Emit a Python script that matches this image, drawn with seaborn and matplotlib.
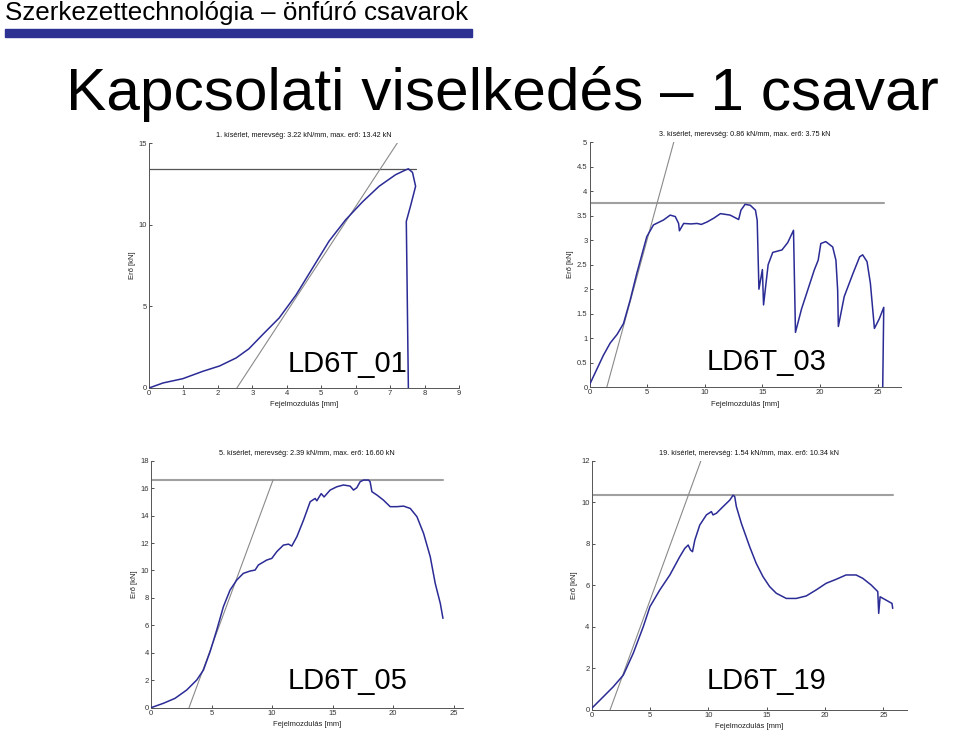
import matplotlib
matplotlib.use("Agg")
import matplotlib.pyplot as plt
import seaborn as sns
import pandas as pd

# ---------------- data ----------------
x1 = [0, 0.41, 0.98, 1.56, 2.05, 2.53, 2.9, 3.3, 3.78, 4.27, 4.75, 5.23, 5.71, 6.2, 6.68,
      7.16, 7.45, 7.53, 7.65, 7.74, 7.6, 7.47, 7.49, 7.53]
y1 = [0, 0.31, 0.57, 1.02, 1.35, 1.84, 2.4, 3.27, 4.29, 5.7, 7.35, 9.0, 10.3, 11.4, 12.35,
      13.06, 13.35, 13.42, 13.2, 12.35, 11.2, 10.2, 6.9, 0]

x2 = [0, 0.6, 1.2, 1.79, 2.4, 2.95, 3.53, 4.1, 4.97, 5.55, 6.42, 7.0, 7.44, 7.73, 7.8, 8.17,
      8.8, 9.33, 9.7, 10.2, 10.8, 11.36, 12.2, 12.94, 13.14, 13.5, 13.95, 14.4, 14.55, 14.7,
      15.0, 15.1, 15.5, 15.9, 16.7, 17.2, 17.7, 17.87, 18.4, 18.93, 19.5, 19.84, 20.07, 20.5,
      21.1, 21.38, 21.53, 21.59, 22.1, 22.86, 23.44, 23.7, 24.08, 24.37, 24.72, 25.15, 25.53,
      25.44]
y2 = [0.05, 0.35, 0.65, 0.9, 1.08, 1.3, 1.78, 2.32, 3.07, 3.31, 3.41, 3.51, 3.48, 3.34, 3.19,
      3.34, 3.33, 3.34, 3.32, 3.37, 3.45, 3.54, 3.51, 3.42, 3.61, 3.73, 3.71, 3.61, 3.4, 2.0,
      2.4, 1.68, 2.5, 2.75, 2.8, 2.95, 3.2, 1.12, 1.6, 1.98, 2.39, 2.59, 2.93, 2.97, 2.86,
      2.59, 1.98, 1.24, 1.85, 2.32, 2.66, 2.7, 2.56, 2.12, 1.2, 1.4, 1.63, 0]

x3 = [0, 1.02, 1.98, 2.95, 3.78, 4.33, 4.88, 5.43, 5.98, 6.53, 7.08, 7.63, 8.19, 8.6, 8.87,
      9.56, 9.98, 10.39, 10.94, 11.36, 11.63, 12.05, 12.6, 13.15, 13.56, 13.7, 14.06, 14.3,
      14.8, 15.35, 15.9, 16.45, 16.73, 17.0, 17.28, 17.56, 17.97, 18.1, 18.25, 18.66, 19.2,
      19.76, 20.3, 20.87, 21.42, 21.97, 22.52, 23.07, 23.48, 23.9, 24.12]
y3 = [0, 0.32, 0.68, 1.29, 2.02, 2.74, 4.08, 5.66, 7.36, 8.57, 9.3, 9.79, 9.96, 10.03, 10.4,
      10.76, 10.88, 11.37, 11.85, 11.92, 11.78, 12.46, 13.67, 15.01, 15.25, 15.08, 15.6,
      15.36, 15.86, 16.1, 16.23, 16.15, 15.86, 16.03, 16.47, 16.59, 16.59, 16.47, 15.74,
      15.5, 15.13, 14.65, 14.65, 14.69, 14.52, 13.92, 12.7, 11.0, 9.06, 7.6, 6.51]

x4 = [0, 1.0, 1.85, 2.71, 3.56, 4.42, 4.99, 5.84, 6.7, 7.55, 7.98, 8.27, 8.47, 8.64, 8.84,
      9.26, 9.83, 10.26, 10.4, 10.69, 11.26, 11.83, 12.12, 12.26, 12.4, 12.83, 13.54, 14.1,
      14.68, 15.25, 15.82, 16.68, 17.53, 18.39, 19.24, 20.1, 20.95, 21.8, 22.66, 23.23,
      23.95, 24.52, 24.6, 24.72, 25.23, 25.74, 25.8]
y4 = [0.08, 0.64, 1.12, 1.68, 2.73, 4.01, 4.97, 5.78, 6.5, 7.38, 7.78, 7.94, 7.7, 7.62, 8.18,
      8.9, 9.39, 9.55, 9.39, 9.47, 9.79, 10.1, 10.34, 10.27, 9.79, 8.98, 7.86, 7.06, 6.42,
      5.94, 5.62, 5.37, 5.37, 5.49, 5.78, 6.1, 6.29, 6.5, 6.5, 6.34, 6.02, 5.7, 4.65, 5.45,
      5.29, 5.13, 4.89]

test_no = [1, 3, 5, 19]
stiffness = [3.22, 0.86, 2.39, 1.54]          # kN/mm
max_force = [13.42, 3.75, 16.60, 10.34]       # kN
line_x0 = [2.55, 1.5, 3.14, 1.57]             # intercept of stiffness line (mm)
line_top = [15, 5, 16.6, 12]                  # upper end of stiffness line (kN)
specimen = ["LD6T_01", "LD6T_03", "LD6T_05", "LD6T_19"]
xlims = [9, 27, 25.8, 27]
ylims = [15, 5, 18, 12]
yticks = [[0, 5, 10, 15],
          [0, 0.5, 1, 1.5, 2, 2.5, 3, 3.5, 4, 4.5, 5],
          [0, 2, 4, 6, 8, 10, 12, 14, 16, 18],
          [0, 2, 4, 6, 8, 10, 12]]
xticks = [[0, 1, 2, 3, 4, 5, 6, 7, 8, 9],
          [0, 5, 10, 15, 20, 25],
          [0, 5, 10, 15, 20, 25],
          [0, 5, 10, 15, 20, 25]]
curves_x = [x1, x2, x3, x4]
curves_y = [y1, y2, y3, y4]

header = "Szerkezettechnológia – önfúró csavarok"
big_title = "Kapcsolati viselkedés – 1 csavar"
xlabel = "Fejelmozdulás [mm]"
ylabel = "Erő [kN]"

# ---------------- style ----------------
sns.set_style("ticks")
plt.rcParams["font.family"] = ["Liberation Sans", "DejaVu Sans"]

W, H = 960, 733
fig = plt.figure(figsize=(W / 100, H / 100), dpi=100)

# axes boxes in pixels: left, right, top, bottom
boxes = [(149, 459, 143, 388), (589.5, 900.7, 142, 387.3),
         (151, 463.3, 460.7, 707.7), (591.7, 906.7, 460.7, 710)]
hline_style = [dict(color="#555555", lw=0.9), dict(color="#a0a0a0", lw=1.5),
               dict(color="#a0a0a0", lw=1.5), dict(color="#a0a0a0", lw=1.5)]
label_pos = [(288, 372), (707, 370), (288, 689), (707, 689)]

curve_color = "#2b2b96"
for i in range(4):
    l, r, t, b = boxes[i]
    ax = fig.add_axes([l / W, 1 - b / H, (r - l) / W, (b - t) / H])
    df = pd.DataFrame({"x": curves_x[i], "y": curves_y[i]})
    xmax = max(curves_x[i])
    # horizontal max-force line
    ax.plot([0, xmax], [max_force[i], max_force[i]], **hline_style[i], zorder=1)
    # stiffness line
    x_end = line_x0[i] + line_top[i] / stiffness[i]
    ax.plot([line_x0[i], x_end], [0, line_top[i]], color="#8a8a8a", lw=0.8, zorder=1)
    sns.lineplot(data=df, x="x", y="y", sort=False, estimator=None, ax=ax,
                 color=curve_color, lw=1.1, zorder=3)
    ax.set_xlim(0, xlims[i])
    ax.set_ylim(0, ylims[i])
    ax.set_xticks(xticks[i])
    ax.set_yticks(yticks[i])
    ax.set_yticklabels([f"{v:g}" for v in yticks[i]])
    ax.tick_params(direction="in", length=2.5, width=0.6, labelsize=5.5,
                   colors="#333333", pad=1.5)
    for s in ["top", "right"]:
        ax.spines[s].set_visible(False)
    for s in ["left", "bottom"]:
        ax.spines[s].set_color("#555555")
        ax.spines[s].set_linewidth(0.7)
    ax.set_xlabel(xlabel, fontsize=5.5, color="#222222", labelpad=3)
    ax.set_ylabel(ylabel, fontsize=5.5, color="#222222", labelpad=2)
    ax.set_title(f"{test_no[i]}. kísérlet, merevség: {stiffness[i]:.2f} kN/mm, "
                 f"max. erő: {max_force[i]:.2f} kN", fontsize=5.2, color="#111111", pad=4)
    lx, ly = label_pos[i]
    fig.text(lx / W, 1 - ly / H, specimen[i], fontsize=21, color="black",
             ha="left", va="baseline")

# header + bar
fig.text(5 / W, 1 - 20 / H, header, fontsize=18.7, color="black", ha="left", va="baseline")
fig.patches.append(plt.Rectangle((5 / W, 1 - 37 / H), 467 / W, 8 / H,
                                 transform=fig.transFigure, color="#2d3192"))
fig.text(66 / W, 1 - 109.5 / H, big_title, fontsize=43.5, color="black",
         ha="left", va="baseline")

fig.savefig("out.png", dpi=100)
